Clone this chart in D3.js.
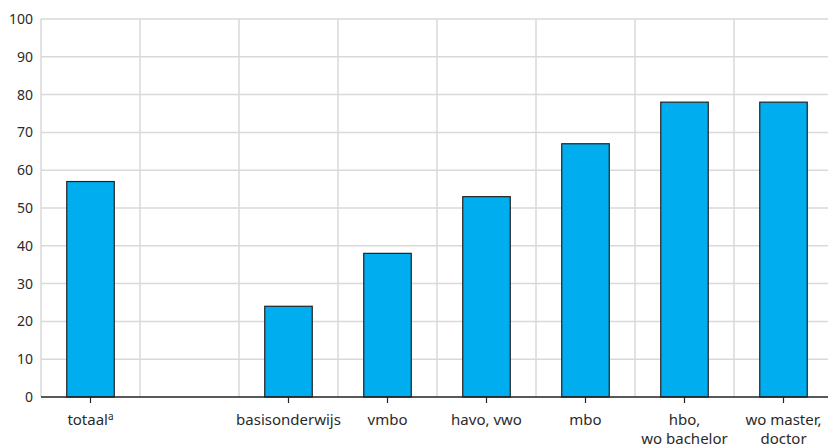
<!DOCTYPE html>
<html><head><meta charset="utf-8">
<script src="https://cdn.jsdelivr.net/npm/d3@7"></script>
<style>
body{margin:0;background:#fff;}
svg{display:block;font-family:"Noto Sans","Open Sans",sans-serif;}
</style></head>
<body><svg id="c" width="828" height="448"></svg>
<script>
const categories = ["totaal", "", "basisonderwijs", "vmbo", "havo, vwo", "mbo", "hbo, wo bachelor", "wo master, doctor"];
const labelLines = [["totaal"], [], ["basisonderwijs"], ["vmbo"], ["havo, vwo"], ["mbo"], ["hbo,", "wo bachelor"], ["wo master,", "doctor"]];
const values = [57, null, 24, 38, 53, 67, 78, 78];
const yTicks = [0, 10, 20, 30, 40, 50, 60, 70, 80, 90, 100];

const svg = d3.select("#c");
const m = {left: 41, top: 19, right: -5, bottom: 51};
const W = 828, H = 448;
const x = d3.scaleBand().domain(d3.range(categories.length)).range([m.left, W - m.right]).paddingInner(0).paddingOuter(0);
const y = d3.scaleLinear().domain([0, 100]).range([H - m.bottom, m.top]);

const grid = svg.append("g");
grid.selectAll("line.h").data(yTicks.filter(d => d > 0)).join("line")
  .attr("x1", m.left).attr("x2", W).attr("y1", d => y(d)).attr("y2", d => y(d))
  .attr("stroke", "#d9d9d9").attr("stroke-width", 1.5);
grid.selectAll("line.v").data(d3.range(categories.length + 1)).join("line")
  .attr("x1", d => m.left + d * x.bandwidth()).attr("x2", d => m.left + d * x.bandwidth())
  .attr("y1", y(100)).attr("y2", y(0))
  .attr("stroke", "#d9d9d9").attr("stroke-width", 1.5);

const bw = x.bandwidth() * 0.48;
svg.append("g").selectAll("rect").data(values.map((v, i) => ({v, i})).filter(d => d.v != null)).join("rect")
  .attr("x", d => x(d.i) + x.bandwidth() / 2 - bw / 2)
  .attr("width", bw)
  .attr("y", d => y(d.v))
  .attr("height", d => y(0) - y(d.v))
  .attr("fill", "#00aeef").attr("stroke", "#222").attr("stroke-width", 1.2);

// y labels
svg.append("g").selectAll("text").data(yTicks).join("text")
  .attr("x", 33).attr("y", d => y(d)).attr("dy", "0.35em")
  .attr("text-anchor", "end").attr("font-size", 14).attr("fill", "#2a2a2a")
  .text(d => d);

// x axis line
svg.append("line").attr("x1", m.left).attr("x2", W).attr("y1", y(0)).attr("y2", y(0))
  .attr("stroke", "#222").attr("stroke-width", 1.3);

// ticks
svg.append("g").selectAll("line").data(values.map((v, i) => ({v, i})).filter(d => d.v != null)).join("line")
  .attr("x1", d => x(d.i) + x.bandwidth() / 2).attr("x2", d => x(d.i) + x.bandwidth() / 2)
  .attr("y1", y(0)).attr("y2", y(0) + 6).attr("stroke", "#222").attr("stroke-width", 1.2);

// x labels
const xl = svg.append("g").selectAll("text").data(labelLines.map((l, i) => ({l, i})).filter(d => d.l.length)).join("text")
  .attr("x", d => x(d.i) + x.bandwidth() / 2)
  .attr("y", 425).attr("text-anchor", "middle").attr("font-size", 15).attr("fill", "#2a2a2a");
xl.each(function(d) {
  const t = d3.select(this);
  d.l.forEach((line, k) => {
    t.append("tspan").attr("x", x(d.i) + x.bandwidth() / 2).attr("dy", k === 0 ? 0 : 19).text(line);
    if (d.i === 0) {
      t.append("tspan").attr("font-size", 10).attr("dy", -5).text("a");
    }
  });
});
</script></body></html>
